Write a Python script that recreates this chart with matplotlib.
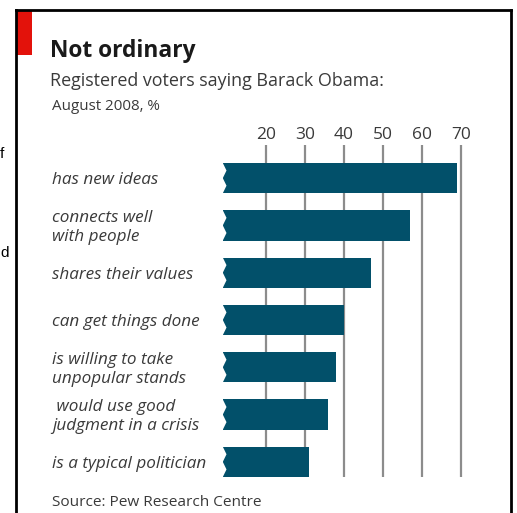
import matplotlib
matplotlib.use("Agg")
import matplotlib.pyplot as plt
from matplotlib.patches import Rectangle, Polygon
from matplotlib.lines import Line2D
from matplotlib.transforms import blended_transform_factory, offset_copy

categories = ["has new ideas", "connects well\nwith people", "shares their values",
              "can get things done", "is willing to take\nunpopular stands",
              " would use good\njudgment in a crisis", "is a typical politician"]
values = [69, 57, 47, 40, 38, 36, 31]
ticks = [20, 30, 40, 50, 60, 70]

title = "Not ordinary"
subtitle = "Registered voters saying Barack Obama:"
unit = "August 2008, %"
source = "Source: Pew Research Centre"

W, H = 517, 513
FONT = "Open Sans"
bar_color = "#02506a"
text_color = "#3a3a3a"

fig = plt.figure(figsize=(W / 100, H / 100), dpi=100)
fig.patch.set_facecolor("white")

def fx(px):
    return px / W

def fy(py):
    return 1 - py / H

# axes geometry in pixels
ax_l, ax_r, ax_t, ax_b = 215, 500, 145, 477
ax = fig.add_axes([fx(ax_l), fy(ax_b), fx(ax_r) - fx(ax_l), fy(ax_t) - fy(ax_b)])
x0 = 187.7
scale = 3.9
ax.set_xlim((ax_l - x0) / scale, (ax_r - x0) / scale)
ax.set_ylim(6.32, -0.70)
ax.axis("off")

bar_left = 9.0
ys = list(range(len(categories)))
h = 0.64
ax.barh(ys, [v - bar_left for v in values], left=bar_left, height=h,
        color=bar_color, zorder=3)
# zigzag notches on left edge
notch = 0.95
for y in ys:
    top = y - h / 2
    pts = [(bar_left - 0.1, top - 0.01),
           (bar_left, top),
           (bar_left + notch, top + h * 0.25),
           (bar_left, top + h * 0.5),
           (bar_left + notch, top + h * 0.75),
           (bar_left, top + h),
           (bar_left - 0.1, top + h + 0.01)]
    ax.add_patch(Polygon(pts, closed=True, facecolor="white", edgecolor="none", zorder=4))

for t in ticks:
    ax.axvline(t, color="#8c8c8c", lw=1.6, zorder=1)
    ax.text(t, -0.70 - 0.05, str(t), ha="center", va="bottom", fontsize=12.5,
            family=FONT, color=text_color)

tr = blended_transform_factory(fig.transFigure, ax.transData)
tr = offset_copy(tr, fig=fig, x=0, y=-2, units="dots")
for y, c in zip(ys, categories):
    ax.text(fx(52), y, c, transform=tr, ha="left", va="center", fontsize=12.3,
            style="italic", family=FONT, color=text_color, linespacing=1.22)

# frame
lw = 2
fig.add_artist(Line2D([fx(16), fx(16)], [fy(10), fy(520)], color="black", lw=lw))
fig.add_artist(Line2D([fx(16), fx(511)], [fy(10), fy(10)], color="black", lw=lw))
fig.add_artist(Line2D([fx(511), fx(511)], [fy(10), fy(520)], color="black", lw=lw))
fig.add_artist(Rectangle((fx(17), fy(55)), fx(32) - fx(17), fy(11) - fy(55),
                         transform=fig.transFigure, facecolor="#e3120b", edgecolor="none"))

fig.text(fx(50), fy(57), title, ha="left", va="baseline", fontsize=16.4,
         weight="bold", family=FONT, color="#1a1a1a")
fig.text(fx(50), fy(86), subtitle, ha="left", va="baseline", fontsize=12.9,
         family=FONT, color=text_color)
fig.text(fx(52), fy(110), unit, ha="left", va="baseline", fontsize=10.9,
         family=FONT, color=text_color)
fig.text(fx(52), fy(506), source, ha="left", va="baseline", fontsize=11.1,
         family=FONT, color=text_color)

# stray text from surrounding page
fig.text(fx(0), fy(158), "f", ha="left", va="baseline", fontsize=11,
         family="Liberation Sans", color="black")
fig.text(fx(0), fy(257), "d", ha="left", va="baseline", fontsize=11,
         family="Liberation Sans", color="black")

fig.savefig("out.png", dpi=100, facecolor="white")
